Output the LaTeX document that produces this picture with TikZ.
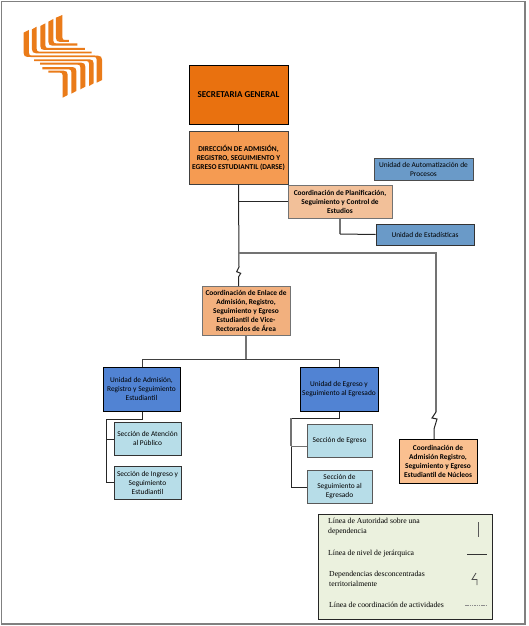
\documentclass[tikz,border=0pt]{standalone}
\usepackage{fontspec}
\setmainfont{Carlito}
\newfontfamily\legendfont{Liberation Serif}
\definecolor{cSec}{HTML}{E9710F}
\definecolor{cDir}{HTML}{F59B52}
\definecolor{cPlan}{HTML}{F2C099}
\definecolor{cEnl}{HTML}{F2B07E}
\definecolor{cNuc}{HTML}{FAC090}
\definecolor{cAut}{HTML}{6A9AC8}
\definecolor{cUni}{HTML}{5183D3}
\definecolor{cSecc}{HTML}{B7DDE8}
\definecolor{cLeg}{HTML}{EBF1DE}
\definecolor{cLogo}{HTML}{EA7B19}
\tikzset{
  box/.style={draw=#1,line width=1pt,align=center,inner sep=0pt,text=black,font=\fontsize{7.4}{9}\selectfont},
  box/.default=black,
  boldbox/.style={box=#1,font=\fontsize{7.4}{9}\selectfont\bfseries},
  boldbox/.default=black,
  link/.style={line width=1pt,draw=black!85},
  graylink/.style={line width=1.3pt,draw=black!55},
  legtext/.style={anchor=west,align=left,inner sep=0pt,font=\legendfont\fontsize{7.7}{10}\selectfont},
}
% left x0, right x1, top t, horizontal h0..h1, end xe
\newcommand{\logostroke}[6]{%
  \fill[cLogo] (#1,#3+8) -- (#2,#3) -- (#2,#4-8) .. controls (#2,#4-2) and (#2+3,#4) .. (#2+8,#4)
    -- (#6,#4) -- (#6,#5) -- (#1+12,#5) .. controls (#1+4,#5) and (#1,#5-4) .. (#1,#5-12) -- cycle;}
\begin{document}
\begin{tikzpicture}[x=1pt,y=-1pt]
\useasboundingbox (0,0) rectangle (529,626);
\draw[draw=black!50,line width=1.3pt] (1.5,1.5) rectangle (525,624);
% logo
\begin{scope}[x=0.3333pt,y=-0.3333pt]
  \logostroke{168}{187}{45}{120}{126}{207}
  \logostroke{145}{160}{57}{130}{137}{232}
  \logostroke{121}{136}{70}{144}{150}{255}
  \logostroke{96}{110}{80}{155}{160}{275}
  \logostroke{71}{87}{90}{167}{171}{285}
  \begin{scope}[xshift=125.67pt,yshift=-112.67pt,x=-0.3333pt,y=0.3333pt]
    \logostroke{174}{189}{45}{120}{126}{232}
    \logostroke{148}{163}{57}{130}{137}{250}
    \logostroke{121}{136}{70}{144}{150}{257}
    \logostroke{96}{110}{80}{155}{160}{275}
    \logostroke{71}{87}{90}{167}{171}{285}
  \end{scope}
\end{scope}
% boxes
\node[boldbox,fill=cSec,minimum width=99pt,minimum height=59pt,font=\fontsize{9}{10}\selectfont\bfseries] (sec) at (238.5,95) {SECRETARIA GENERAL};
\node[boldbox=black!75,fill=cDir,minimum width=99pt,minimum height=53pt] (dir) at (238.5,157.5) {DIRECCIÓN DE ADMISIÓN,\\REGISTRO, SEGUIMIENTO Y\\EGRESO ESTUDIANTIL (DARSE)};
\node[boldbox=black!55,fill=cPlan,minimum width=104pt,minimum height=33pt] (plan) at (340,201.5) {Coordinación de Planificación,\\Seguimiento y Control de\\Estudios};
\node[box=black!70,fill=cAut,minimum width=99pt,minimum height=22pt] (aut) at (423.5,169) {Unidad de Automatización de\\Procesos};
\node[box=black!80,fill=cAut,minimum width=98pt,minimum height=21pt] (est) at (425,234.5) {Unidad de Estadísticas};
\node[boldbox=black!55,fill=cEnl,minimum width=88pt,minimum height=49pt] (enl) at (246,310.5) {Coordinación de Enlace de\\Admisión, Registro,\\Seguimiento y Egreso\\Estudiantil de Vice-\\Rectorados de Área};
\node[box,fill=cUni,minimum width=77pt,minimum height=44pt] (uadm) at (141.5,389) {Unidad de Admisión,\\Registro y Seguimiento\\Estudiantil};
\node[box,fill=cUni,minimum width=78pt,minimum height=44pt] (uegr) at (339,389) {Unidad de Egreso y\\Seguimiento al Egresado};
\node[box=black!80,fill=cSecc,minimum width=67pt,minimum height=33pt] (sat) at (147.5,438.5) {Sección de Atención\\al Público};
\node[box=black!80,fill=cSecc,minimum width=67pt,minimum height=33pt] (sing) at (147.5,482.5) {Sección de Ingreso y\\Seguimiento\\Estudiantil};
\node[box=black!65,fill=cSecc,minimum width=65pt,minimum height=33pt] (segr) at (339.5,440.5) {Sección de Egreso};
\node[box=black!65,fill=cSecc,minimum width=65pt,minimum height=33pt] (sseg) at (339.5,486.5) {Sección de\\Seguimiento al\\Egresado};
\node[boldbox,fill=cNuc,minimum width=78pt,minimum height=44pt] (nuc) at (438,461) {Coordinación de\\Admisión Registro,\\Seguimiento y Egreso\\Estudiantil de Núcleos};
% connectors
\draw[link] (sec.south) -- (dir.north);
\coordinate (zA) at (239,267);
\coordinate (tee) at (239,253);
\draw[link] (dir.south) -- (zA) -- (236.7,271.7) -- (240.7,273.3) -- (238.5,277) -- (238.5,286);
\draw[link] (dir.south |- plan.west) -- (plan.west);
\draw[graylink] (340,218) -- (340,234);
\draw[link] (340,234) -- (est.west);
\coordinate (zB) at (436,412);
\draw[graylink] (tee) -- (436,253) -- (zB);
\draw[link] (zB) -- (432,418) -- (437,419) -- (434,429) -- (434,439);
\coordinate (busL) at (142,359);
\coordinate (busR) at (339,359);
\draw[graylink] (enl.south) -- (246,359);
\draw[link,draw=black!75] (uadm.north -| busL) -- (busL) -- (busR) -- (uegr.north -| busR);
\coordinate (aL) at (106,419);
\draw[link] (uadm.south -| busL) -- (142,419) -- (aL) -- (106,482) -- (sing.west |- 0,482);
\draw[link] (106,439) -- (sat.west |- 0,439);
\coordinate (eL) at (291,418);
\draw[link] (uegr.south -| busR) -- (339,418) -- (eL);
\draw[graylink] (eL) -- (291,446);
\draw[link] (291,446) -- (291,487) -- (sseg.west |- 0,487);
\draw[graylink,line width=1pt] (291,446) -- (segr.west |- 0,446);
% legend
\node[draw=black!85,line width=1pt,fill=cLeg,minimum width=174pt,minimum height=105pt,inner sep=0pt] (leg) at (405,566.5) {};
\node[legtext] (l1) at (328,527) {Línea de Autoridad sobre una\\dependencia};
\node[legtext] (l2) at (328,553.5) {Línea de nivel de jerárquica};
\node[legtext] (l3) at (329,579) {Dependencias desconcentradas\\territorialmente};
\node[legtext] (l4) at (329,604.5) {Línea de coordinación de actividades};
\coordinate (v1) at (478,522); \coordinate (v2) at (478,537);
\draw[line width=1pt,draw=black!65] (v1) -- (v2);
\coordinate (h1) at (467,554); \coordinate (h2) at (487,554);
\draw[line width=1pt,draw=black!80] (h1) -- (h2);
\coordinate (z1) at (476,573); \coordinate (z2) at (477,585);
\draw[line width=.8pt,draw=black!70] (z1) -- (472,579.5) -- (477,579.5) -- (z2);
\coordinate (d1) at (465,605); \coordinate (d2) at (486,605);
\draw[line width=.5pt,draw=black!45,dash pattern=on 1.5pt off .8pt] (d1) -- (d2);
\end{tikzpicture}
\end{document}
